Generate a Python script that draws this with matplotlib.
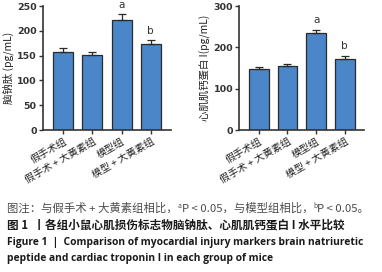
import matplotlib
matplotlib.use("Agg")
import matplotlib.pyplot as plt

plt.rcParams['font.family'] = ['Noto Sans CJK SC', 'DejaVu Sans']

groups = ["假手术组", "假手术 + 大黄素组", "模型组", "模型 + 大黄素组"]
bnp_mean = [157, 151, 221, 173]
bnp_err = [8, 6, 13, 9]
ctni_mean = [148, 154, 235, 171]
ctni_err = [5, 6, 8, 9]
sig_labels = ["", "", "a", "b"]

bar_color = "#4a86c8"
edge = "#2a2a2a"

fig = plt.figure(figsize=(3.82, 2.72), dpi=100)

def panel(rect, means, errs, ymax, step, ylabel, xlim):
    ax = fig.add_axes(rect)
    x = list(range(len(means)))
    ax.bar(x, means, width=0.69, color=bar_color, edgecolor=edge, linewidth=0.9, zorder=2)
    ax.errorbar(x, means, yerr=[[0]*len(errs), errs], fmt='none', ecolor=edge,
                elinewidth=0.9, capsize=3.2, capthick=0.9, zorder=3)
    for xi, m, e, s in zip(x, means, errs, sig_labels):
        if s:
            ax.annotate(s, (xi, m + e), xytext=(0, 3), textcoords='offset points',
                        ha='center', va='bottom', fontsize=7.5, color='#333333',
                        family=['DejaVu Sans'])
    ax.set_ylim(0, ymax)
    ax.set_xlim(*xlim)
    ax.set_yticks(range(0, ymax + 1, step))
    ax.set_xticks(x)
    ax.set_xticklabels(groups, rotation=30, ha='right', va='top', rotation_mode='anchor',
                       fontsize=7.2, color='#222222')
    for lab in ax.get_yticklabels():
        lab.set_fontsize(6.8)
        lab.set_fontweight('bold')
        lab.set_family(['DejaVu Sans'])
        lab.set_color('#333333')
    ax.spines['top'].set_visible(False)
    ax.spines['right'].set_visible(False)
    for sp in ('left', 'bottom'):
        ax.spines[sp].set_linewidth(1.2)
        ax.spines[sp].set_color('#333333')
    ax.tick_params(axis='both', length=3, width=1.0, color='#333333', pad=1.5)
    ax.set_ylabel(ylabel, fontsize=7.5, color='#222222', labelpad=2)
    return ax

panel([43/382, 1 - 130/272, 128/382, 124/272], bnp_mean, bnp_err, 250, 50,
      "脑钠肽 (pg/mL)", (-0.7, 3.7))
panel([239.5/382, 1 - 130/272, 124/382, 124/272], ctni_mean, ctni_err, 300, 100,
      "心肌肌钙蛋白 I(pg/mL)", (-0.68, 3.66))

# caption line 1 with superscripts and italic P
cap_color = "#4d4d4d"
fs1 = 8.2
y1 = 1 - 212/272
segments = [
    ("图注：与假手术 + 大黄素组相比，", {}, 0),
    ("a", {'fontsize': 5}, 3.2),
    ("P", {'style': 'italic'}, 0),
    (" < 0.05，与模型组相比，", {}, 0),
    ("b", {'fontsize': 5}, 3.2),
    ("P", {'style': 'italic'}, 0),
    (" < 0.05。", {}, 0),
]
prev = None
for txt, kw, dy in segments:
    props = dict(fontsize=fs1, color=cap_color)
    props.update(kw)
    if prev is None:
        prev = fig.text(7/382, y1, txt, ha='left', va='baseline', **props)
    else:
        prev = plt.annotate(
            txt, xy=(1, y1), xycoords=(prev, 'figure fraction'),
            xytext=(0, dy), textcoords='offset points',
            ha='left', va='baseline', annotation_clip=False, **props)

fig.text(7/382, 1 - 228/272, "图 1  丨各组小鼠心肌损伤标志物脑钠肽、心肌肌钙蛋白 I 水平比较",
         fontsize=8.35, fontweight='bold', color='#1a1a1a', ha='left', va='baseline')
fig.text(7/382, 1 - 245/272, "Figure 1  |  Comparison of myocardial injury markers brain natriuretic",
         fontsize=7.35, fontweight='bold', color='#1a1a1a', ha='left', va='baseline',
         family=['Open Sans'])
fig.text(7/382, 1 - 261/272, "peptide and cardiac troponin I in each group of mice",
         fontsize=7.35, fontweight='bold', color='#1a1a1a', ha='left', va='baseline',
         family=['Open Sans'])

fig.savefig("out.png", dpi=100)
